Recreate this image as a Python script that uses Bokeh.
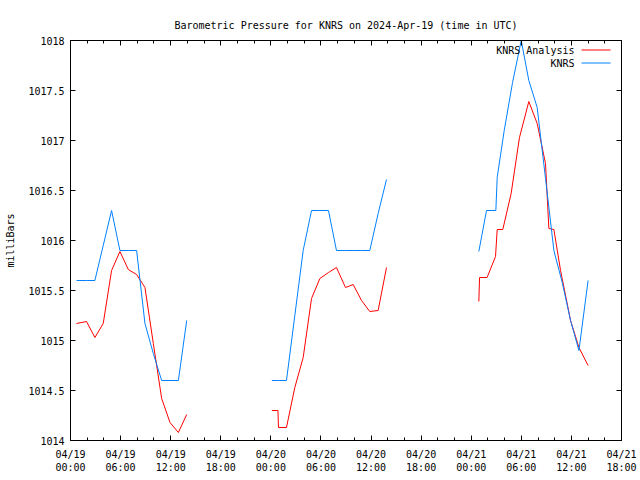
from bokeh.plotting import figure
from bokeh.models import Range1d, FixedTicker, LinearAxis, Label, Arrow, CustomLabelingPolicy
from bokeh.embed import file_html
from bokeh.resources import INLINE

NaN = float("nan")

# time in hours since 2024-04-19 00:00 UTC
knrs_hours = [0.72, 1.92, 2.92, 3.92, 4.92, 5.92, 6.92, 7.92, 8.92, 9.92, 10.92, 11.92, 12.92, 13.92,
              NaN,
              24.12, 24.91, 25.87, 26.87, 27.87, 28.87, 29.87, 30.9, 31.86, 32.94, 33.86, 34.86, 35.85, 36.85, 37.85,
              NaN,
              48.91, 49.83, 50.95, 51.11, 51.95, 52.95, 53.99, 54.9, 55.9, 56.9, 57.9, 58.9, 59.9, 60.9, 62.0]
knrs_mb = [1015.60, 1015.60, 1015.60, 1015.95, 1016.30, 1015.90, 1015.90, 1015.90, 1015.17, 1014.87, 1014.60, 1014.60, 1014.60, 1015.20,
           NaN,
           1014.60, 1014.60, 1014.60, 1015.25, 1015.90, 1016.30, 1016.30, 1016.30, 1015.90, 1015.90, 1015.90, 1015.90, 1015.90, 1016.27, 1016.61,
           NaN,
           1015.89, 1016.30, 1016.30, 1016.63, 1017.10, 1017.58, 1018.00, 1017.60, 1017.33, 1016.62, 1015.90, 1015.58, 1015.20, 1014.90, 1015.60]

analysis_hours = [0.72, 1.92, 2.92, 3.92, 4.92, 5.92, 6.92, 7.92, 8.92, 9.92, 10.92, 11.92, 12.92, 13.92,
                  NaN,
                  24.12, 24.85, 24.91, 25.87, 26.87, 27.87, 28.87, 29.87, 30.9, 31.86, 32.94, 33.86, 34.86, 35.85, 36.85, 37.85,
                  NaN,
                  48.91, 49.0, 49.9, 50.91, 51.11, 51.78, 52.78, 53.78, 54.9, 55.9, 56.9, 57.3, 57.9, 58.7, 59.9, 60.9, 62.0]
analysis_mb = [1015.17, 1015.19, 1015.03, 1015.17, 1015.70, 1015.89, 1015.71, 1015.66, 1015.53, 1014.97, 1014.42, 1014.18, 1014.08, 1014.26,
               NaN,
               1014.30, 1014.30, 1014.13, 1014.13, 1014.53, 1014.83, 1015.42, 1015.62, 1015.68, 1015.73, 1015.53, 1015.56, 1015.40, 1015.29, 1015.30, 1015.73,
               NaN,
               1015.39, 1015.63, 1015.63, 1015.84, 1016.11, 1016.11, 1016.47, 1017.03, 1017.39, 1017.17, 1016.77, 1016.12, 1016.11, 1015.70, 1015.20, 1014.93, 1014.75]

x_tick_hours = [0, 6, 12, 18, 24, 30, 36, 42, 48, 54, 60, 66]
x_tick_labels = ["04/19\n00:00", "04/19\n06:00", "04/19\n12:00", "04/19\n18:00",
                 "04/20\n00:00", "04/20\n06:00", "04/20\n12:00", "04/20\n18:00",
                 "04/21\n00:00", "04/21\n06:00", "04/21\n12:00", "04/21\n18:00"]
x_minor_hours = list(range(0, 67, 2))
y_ticks = [1014, 1014.5, 1015, 1015.5, 1016, 1016.5, 1017, 1017.5, 1018]
y_tick_labels = ["1014", "1014.5", "1015", "1015.5", "1016", "1016.5", "1017", "1017.5", "1018"]

title_text = "Barometric Pressure for KNRS on 2024-Apr-19 (time in UTC)"
series_names = ["KNRS Analysis", "KNRS"]
series_colors = ["#ff0000", "#0080ff"]

FONT = "DejaVu Sans Mono"
FS = "10px"

p = figure(width=640, height=480, output_backend="svg", toolbar_location=None,
           x_range=Range1d(0, 66), y_range=Range1d(1014, 1018),
           min_border_left=70, min_border_right=19, min_border_top=40, min_border_bottom=40,
           title=title_text)
p.title.align = "center"
p.title.text_font = FONT
p.title.text_font_size = FS
p.title.text_font_style = "normal"
p.title.text_color = "black"
p.title.standoff = 19

p.xgrid.visible = False
p.ygrid.visible = False
p.outline_line_color = "black"
p.outline_line_width = 1
p.background_fill_color = "white"
p.border_fill_color = "white"


def style_axis(ax):
    ax.axis_line_color = "black"
    ax.major_tick_in = 5
    ax.major_tick_out = 0
    ax.minor_tick_in = 3
    ax.minor_tick_out = 0
    ax.major_tick_line_color = "black"
    ax.minor_tick_line_color = "black"
    ax.major_label_text_font = FONT
    ax.major_label_text_font_size = FS
    ax.major_label_text_color = "black"


xax = p.xaxis[0]
xax.ticker = FixedTicker(ticks=x_tick_hours, minor_ticks=x_minor_hours)
xax.major_label_overrides = {h: lab for h, lab in zip(x_tick_hours, x_tick_labels)}
style_axis(xax)
xax.major_label_standoff = 8
xax.major_label_text_line_height = 1.25

yax = p.yaxis[0]
yax.ticker = FixedTicker(ticks=y_ticks, minor_ticks=[])
yax.major_label_overrides = {v: lab for v, lab in zip(y_ticks, y_tick_labels)}
style_axis(yax)
yax.major_label_standoff = 6
yax.axis_label = "milliBars"
yax.axis_label_text_font = FONT
yax.axis_label_text_font_size = FS
yax.axis_label_text_font_style = "normal"
yax.axis_label_text_color = "black"
yax.axis_label_standoff = 9

# mirrored tick marks on top and right, without labels
no_labels = "for (const i of [...indices]) indices.unset(i); return indices;"

top = LinearAxis(ticker=FixedTicker(ticks=x_tick_hours, minor_ticks=x_minor_hours),
                 major_label_policy=CustomLabelingPolicy(code=no_labels))
style_axis(top)
top.major_label_standoff = 0
top.major_label_text_font_size = "0px"
p.add_layout(top, "above")

right = LinearAxis(ticker=FixedTicker(ticks=y_ticks, minor_ticks=[]),
                   major_label_policy=CustomLabelingPolicy(code=no_labels))
style_axis(right)
right.major_label_standoff = 0
right.major_label_text_font_size = "0px"
p.add_layout(right, "right")

p.line(analysis_hours, analysis_mb, line_color=series_colors[0], line_width=1)
p.line(knrs_hours, knrs_mb, line_color=series_colors[1], line_width=1)

# legend (gnuplot style: text right-aligned, sample line to the right)
leg_text_x = 60.37
leg_line_x0, leg_line_x1 = 61.21, 64.69
leg_rows_y = [1017.905, 1017.775]
for name, col, yy in zip(series_names, series_colors, leg_rows_y):
    p.add_layout(Label(x=leg_text_x, y=yy, text=name, text_align="right", text_baseline="middle",
                       text_font=FONT, text_font_size=FS, text_color="black"))
    p.add_layout(Arrow(x_start=leg_line_x0, y_start=yy, x_end=leg_line_x1, y_end=yy, end=None,
                       line_color=col, line_width=1))

open("out.html", "w").write(file_html(p, INLINE))
